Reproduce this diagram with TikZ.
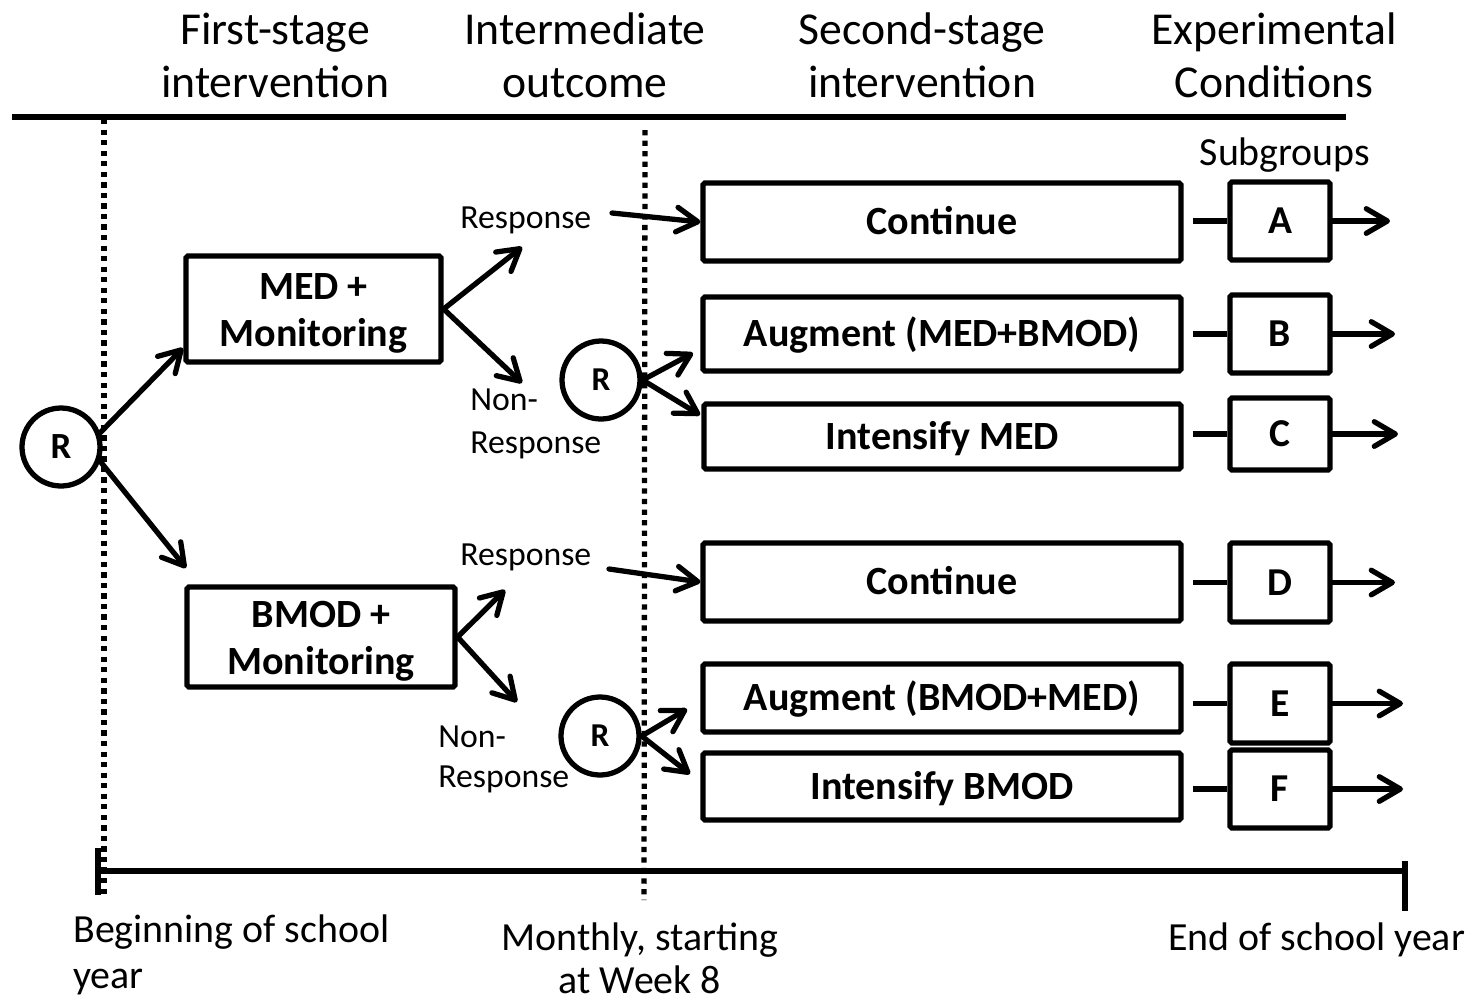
\documentclass[tikz,border=0pt]{standalone}
\usepackage{fontspec}
\setmainfont{Carlito}
\usetikzlibrary{arrows.meta,calc}
\begin{document}
\begin{tikzpicture}[x=0.02cm,y=-0.02cm,
  arr/.style={line width=3pt, -{Straight Barb[length=12pt,width=14pt,round]}, line cap=round},
  plainline/.style={line width=3pt},
  dotline/.style={line width=3pt, dash pattern=on 3pt off 3pt},
  stagebox/.style={draw, line width=3pt, rounded corners=1pt, inner sep=0pt, font=\bfseries\fontsize{22.8}{26.6}\selectfont, text height=14.7pt, text depth=0pt},
  bigbox/.style={draw, line width=3pt, rounded corners=1pt, inner sep=0pt, align=center, font=\bfseries\fontsize{22.8}{26.6}\selectfont},
  letterbox/.style={stagebox, minimum width=2cm, font=\bfseries\fontsize{22.5}{26}\selectfont, text height=14.5pt},
  circ/.style={draw, circle, line width=3pt, minimum size=1.56cm, inner sep=0pt, font=\bfseries\fontsize{21}{24}\selectfont, text height=13.5pt, text depth=0pt},
  smallcirc/.style={circ, font=\bfseries\fontsize{19}{22}\selectfont, text height=12.2pt},
  hdr/.style={anchor=base, font=\fontsize{26}{30}\selectfont, inner sep=0pt},
  smalllbl/.style={anchor=base west, font=\fontsize{19.2}{23}\selectfont, inner sep=0pt},
  ftlbl/.style={anchor=base west, font=\fontsize{22.7}{27}\selectfont, inner sep=0pt},
  ftclbl/.style={anchor=base, font=\fontsize{22.7}{27}\selectfont, inner sep=0pt}
]
\useasboundingbox (0,0) rectangle (1471,1002);

% guide lines
\draw[plainline] (12,117) -- (1346,117);
\draw[dotline] (104,119) -- (104,895);
\draw[dotline] (645,130) -- (644,900);
\draw[plainline] (98,871) -- (1405,871);
\draw[plainline] (98,848) -- (98,895);
\draw[plainline] (1405,861) -- (1405,911);

% headers
\node[hdr] (h1a) at (275,44) {First-stage};
\node[hdr] (h1b) at (275,97) {intervention};
\node[hdr] (h2a) at (585,44) {Intermediate};
\node[hdr] (h2b) at (585,97) {outcome};
\node[hdr] (h3a) at (922,44) {Second-stage};
\node[hdr] (h3b) at (922,97) {intervention};
\node[hdr] (h4a) at (1274,44) {Experimental};
\node[hdr] (h4b) at (1274,97) {Conditions};
\node[ftclbl] (sub) at (1285,165) {Subgroups};

% nodes
\node[circ] (R1) at (61,447) {R};
\node[bigbox, minimum width=5.10cm, minimum height=2.12cm] (MED) at (313.5,309) {\rule{0pt}{20pt}MED +\\Monitoring};
\node[bigbox, minimum width=5.36cm, minimum height=2.00cm] (BMOD) at (321,637) {\rule{0pt}{20pt}BMOD +\\Monitoring};
\node[smallcirc] (R2) at (601,380) {R};
\node[smallcirc] (R3) at (600,736) {R};

\node[stagebox, minimum width=9.56cm, minimum height=1.56cm] (C1) at (942,222) {Continue};
\node[stagebox, minimum width=9.56cm, minimum height=1.48cm] (A1) at (942,334) {Augment (MED+BMOD)};
\node[stagebox, minimum width=9.54cm, minimum height=1.30cm] (I1) at (942.5,436.5) {Intensify MED};
\node[stagebox, minimum width=9.56cm, minimum height=1.56cm] (C2) at (942,582) {Continue};
\node[stagebox, minimum width=9.56cm, minimum height=1.36cm] (A2) at (942,698) {Augment (BMOD+MED)};
\node[stagebox, minimum width=9.56cm, minimum height=1.34cm] (I2) at (942,786.5) {Intensify BMOD};

\node[letterbox, minimum height=1.56cm] (gA) at (1280,221) {A};
\node[letterbox, minimum height=1.56cm] (gB) at (1280,334) {B};
\node[letterbox, minimum height=1.44cm] (gC) at (1280,434) {C};
\node[letterbox, minimum height=1.58cm] (gD) at (1280,582.5) {D};
\node[letterbox, minimum height=1.58cm] (gE) at (1280,703.5) {E};
\node[letterbox, minimum height=1.56cm] (gF) at (1280,789) {F};

% small labels
\node[smalllbl] (resp1) at (460,228) {Response};
\node[smalllbl] (non1) at (470,410) {Non-};
\node[smalllbl] (nonr1) at (470,453) {Response};
\node[smalllbl] (resp2) at (460,565) {Response};
\node[smalllbl] (non2) at (438,747) {Non-};
\node[smalllbl] (nonr2) at (438,787) {Response};

% bottom labels
\node[ftlbl] (b1) at (73,942) {Beginning of school};
\node[ftlbl] (b2) at (73,988) {year};
\node[ftclbl] (m1) at (640,950) {Monthly, starting};
\node[ftclbl] (m2) at (640,993) {at Week 8};
\node[ftlbl] (e1) at (1168,950) {End of school year};

% coordinates for free ends
\coordinate (tMED) at (183,348);
\coordinate (tBMOD) at (186,568);
\coordinate (tR1) at (522,247);
\coordinate (tN1) at (522,383);
\coordinate (tR2) at (505,590);
\coordinate (tN2) at (517,702);
\coordinate (sR1) at (612,213);
\coordinate (sR2) at (609,569);
\coordinate (t21) at (693,353);
\coordinate (t22) at (700,415);
\coordinate (t31) at (687,709);
\coordinate (t32) at (690,774);
\coordinate (oA) at (1390,221);
\coordinate (oB) at (1395,334);
\coordinate (oC) at (1398,434);
\coordinate (oD) at (1395,582.5);
\coordinate (oE) at (1403,703.5);
\coordinate (oF) at (1403,789);

% arrows
\draw[arr] (R1.20) -- (tMED);
\draw[arr] (R1.-20) -- (tBMOD);
\draw[arr] (MED.east) -- (tR1);
\draw[arr] (MED.east) -- (tN1);
\draw[arr] (BMOD.east) -- (tR2);
\draw[arr] (BMOD.east) -- (tN2);
\draw[arr] (sR1) -- (C1.west);
\draw[arr] (sR2) -- (C2.west);
\draw[arr] (R2.east) -- (t21);
\draw[arr] (R2.east) -- (t22);
\draw[arr] (R3.east) -- (t31);
\draw[arr] (R3.east) -- (t32);

\draw[plainline] ($(C1.east |- gA.west)+(9,0)$) -- (gA.west);
\draw[plainline] ($(A1.east |- gB.west)+(9,0)$) -- (gB.west);
\draw[plainline] ($(I1.east |- gC.west)+(9,0)$) -- (gC.west);
\draw[plainline] ($(C2.east |- gD.west)+(9,0)$) -- (gD.west);
\draw[plainline] ($(A2.east |- gE.west)+(9,0)$) -- (gE.west);
\draw[plainline] ($(I2.east |- gF.west)+(9,0)$) -- (gF.west);

\draw[arr] (gA.east) -- (oA);
\draw[arr] (gB.east) -- (oB);
\draw[arr] (gC.east) -- (oC);
\draw[arr] (gD.east) -- (oD);
\draw[arr] (gE.east) -- (oE);
\draw[arr] (gF.east) -- (oF);
\end{tikzpicture}
\end{document}
